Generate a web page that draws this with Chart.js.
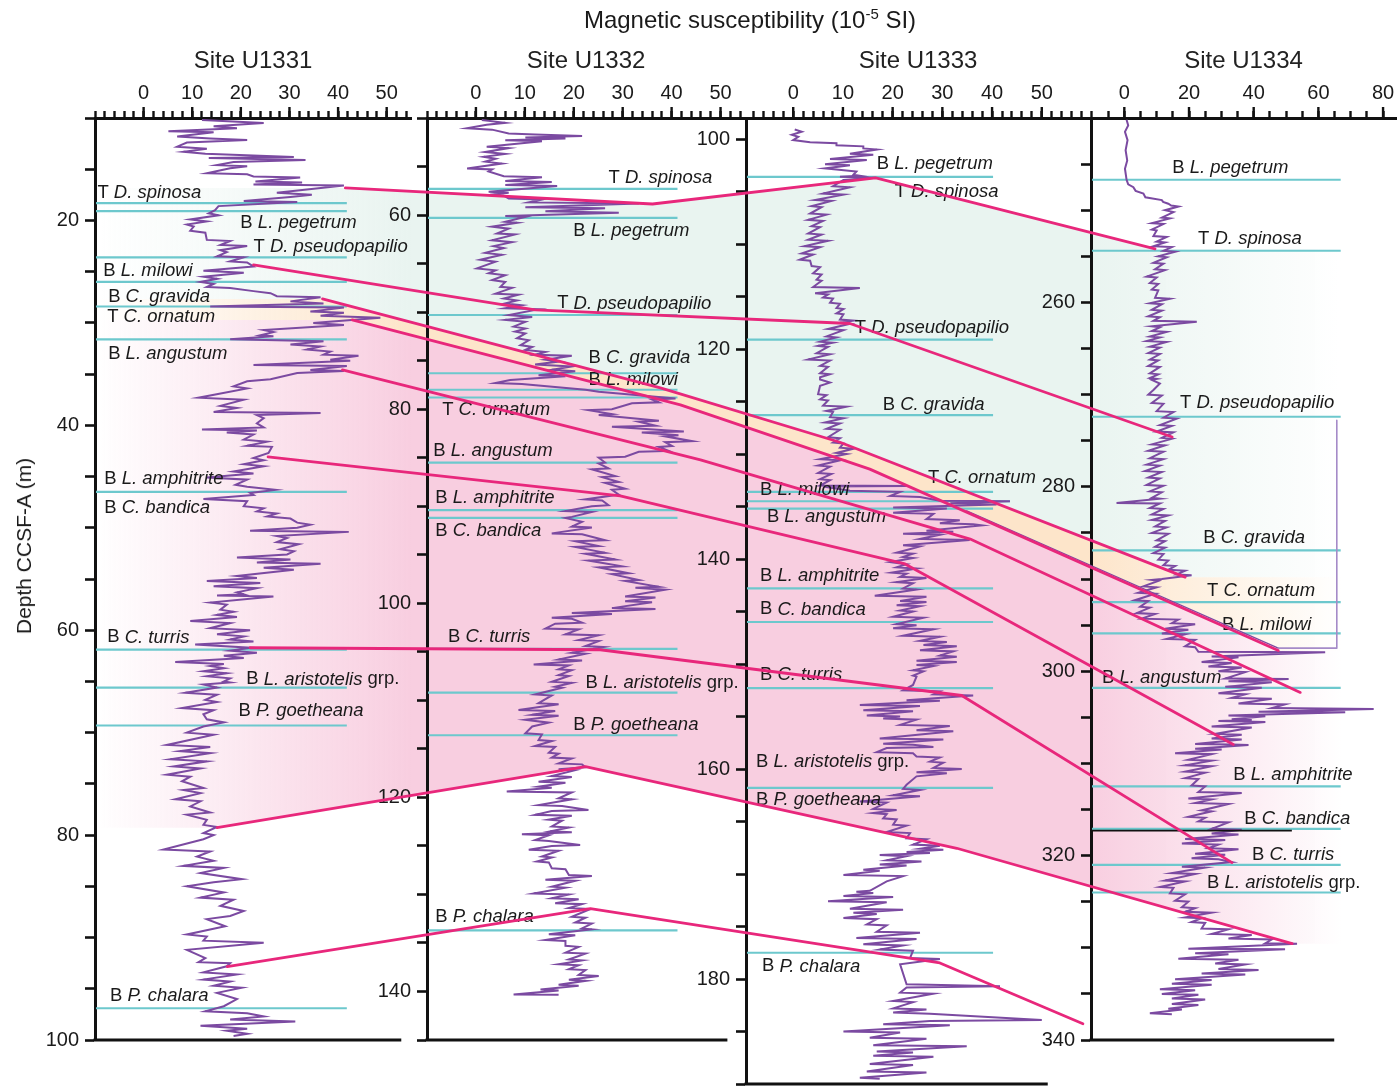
<!DOCTYPE html>
<html lang="en">
<head>
<meta charset="UTF-8">
<title>Magnetic susceptibility - Sites U1331 to U1334</title>
<script src="https://cdn.jsdelivr.net/npm/chart.js"></script>
<style>
  body { margin: 0; background: #fff; }
  #page { position: relative; width: 1398px; height: 1086px; overflow: hidden;
          font-family: 'Liberation Sans', Arial, Helvetica, sans-serif; color: #1a1a1a; }
  canvas { position: absolute; top: 0; }
  #bg { left: 0; z-index: 0; }
  .site { z-index: 1; }
  #fg { left: 0; z-index: 2; pointer-events: none; }
  #mainTitle { position: absolute; left: 450px; width: 600px; top: 5px; text-align: center;
               font-size: 24px; line-height: 30px; z-index: 3; }
  #mainTitle sup { font-size: 15px; line-height: 0; }
  #yTitle { position: absolute; left: 24px; top: 546px; transform: translate(-50%, -50%) rotate(-90deg);
            font-size: 21px; white-space: nowrap; z-index: 3; }
</style>
</head>
<body>
<div id="page">
  <canvas id="bg" width="1398" height="1086"></canvas>
  <canvas id="fg" width="1398" height="1086"></canvas>
  <div id="mainTitle">Magnetic susceptibility (10<sup>-5</sup> SI)</div>
  <div id="yTitle">Depth CCSF-A (m)</div>
</div>
<script>
// ---- data: [magnetic susceptibility, depth CCSF-A] ----
const siteNames = ['Site U1331', 'Site U1332', 'Site U1333', 'Site U1334'];

const u1331Ms = [
  [12,10.2],[24.7,10.5],[14.4,10.8],[19.2,11.0],[5.1,11.3],[14.4,11.4],[6.9,11.8],[13.7,12.0],[21.3,12.15],[8.9,12.4],
  [6.9,12.8],[13.0,13.0],[8.2,13.3],[12.7,13.5],[30.9,13.8],[13.4,13.9],[33.3,14.1],[18.5,14.3],[15.1,14.6],[21.3,14.7],
  [17.8,14.9],[13.0,15.4],[21.3,15.5],[22.6,15.7],[32.2,15.8],[23.0,16.2],[32.6,16.3],[22.6,16.5],[41.2,16.6],[27.4,17.3],
  [34.6,17.5],[30.2,17.7],[20.6,18.1],[31.6,18.2],[15.4,18.6],[14.7,19.0],[13.4,19.3],[15.4,19.5],[9.6,19.9],[13.0,20.1],
  [8.9,20.4],[10.3,20.6],[9.6,21.0],[12.7,21.2],[13.0,21.9],[17.8,22.0],[15.8,22.4],[21.3,22.5],[15.8,22.9],[17.1,23.1],
  [15.1,23.5],[20.6,23.6],[17.8,24.0],[21.3,24.1],[22.6,24.5],[12.3,24.9],[20.6,25.1],[12.3,25.5],[15.1,25.7],[11.7,26.0],
  [14.4,26.2],[13.0,26.5],[17.8,26.6],[22.6,26.9],[26.1,27.1],[27.4,27.4],[36.4,27.5],[30.2,27.9],[37.0,28.1],[13.7,28.4],
  [41.2,28.5],[34.3,28.9],[41.2,29.0],[36.4,29.3],[48.7,29.5],[34.9,30.0],[41.2,30.2],[24.7,30.7],[26.7,30.9],[24.0,31.2],
  [26.7,31.3],[17.8,31.6],[37.0,31.8],[30.2,32.1],[36.4,32.3],[33.6,32.6],[38.4,32.8],[37.0,33.1],[44.2,33.2],[38.4,33.6],
  [42.5,33.7],[22.6,34.1],[41.8,34.2],[34.3,34.6],[41.2,34.7],[31.6,34.9],
  [26.1,35.5],[21.3,35.7],[18.5,36.2],[21.3,36.4],[11.3,37.3],[20.6,37.5],[15.8,38.1],[19.2,38.3],[14.4,38.7],[36.4,38.8],
  [23.3,39.0],[24.7,39.3],[23.3,39.8],[24.7,40.2],[12.0,40.4],[23.3,40.5],[17.1,40.7],[22.6,40.9],[20.6,41.4],[25.4,41.6],
  [21.3,42.0],[26.4,42.1],[25.7,42.7],[22.6,43.2],[24.7,43.4],[20.6,43.8],[24.7,44.0],[18.5,44.5],[22.6,44.7],[13.0,45.1],
  [21.3,45.3],[18.9,45.8],[21.3,46.0],[27.1,46.3],[21.9,46.6],[22.6,46.8],[12.3,47.2],[21.3,47.4],[20.6,47.9],[24.7,48.1],
  [23.3,48.4],[27.4,48.6],[25.4,48.9],[30.2,49.1],[31.6,49.5],[34.3,49.7],[31.6,50.0],[21.9,50.3],[42.2,50.4],[27.4,50.8],
  [29.5,51.0],[27.4,51.4],[31.9,51.6],[28.1,52.1],[30.9,52.3],[29.5,52.6],[19.2,52.9],[30.2,53.1],[23.3,53.4],[36.4,53.5],
  [24.7,53.9],[30.9,54.1],[19.2,54.7],[23.3,54.9],[13.0,55.2],[24.0,55.4],[14.4,55.7],[23.3,55.9],[19.2,56.3],[20.6,56.5],
  [15.1,56.6],[26.7,56.7],[13.7,57.3],[17.1,57.5],[15.8,58.0],[18.5,58.2],[15.1,58.5],[19.2,58.7],[9.6,59.1],[17.8,59.3],
  [13.7,59.8],[21.9,60.0],[15.1,60.4],[20.6,60.6],[17.8,60.9],[22.6,61.1],[10.6,61.4],[22.0,61.7],[17.8,62.0],[23.3,62.2],
  [16.5,62.5],[20.6,62.7],[6.5,63.1],[16.5,63.3],[13.7,63.5],[16.5,63.7],[12.3,64.0],[17.1,64.2],[13.0,64.5],[17.8,64.7],
  [16.5,65.0],[17.8,65.1],[12.3,65.3],[15.1,65.6],[8.6,66.1],[15.1,66.3],[12.7,66.8],[15.1,67.0],[7.9,67.6],[14.4,67.8],
  [12.3,68.2],
  [13.0,68.7],[16.5,69.0],[12.3,69.4],[8.9,70.0],[14.4,70.2],[4.8,71.2],[13.7,71.4],[7.5,71.8],[13.7,72.0],[5.5,72.6],
  [13.0,72.8],[6.2,73.3],[11.7,73.5],[4.8,74.1],[9.6,74.3],[7.9,74.75],[12.3,75.4],[8.2,75.6],[11.7,75.9],[6.5,76.5],
  [11.7,76.7],[9.6,77.2],[13.7,77.8],[8.9,78.0],[13.0,78.5],[12.3,79.0],[15.1,79.2],[12.3,79.8],[14.4,80.0],[12.3,80.4],
  [4.1,81.4],[13.7,81.6],[11.0,82.1],[14.4,82.5],[8.2,83.0],[16.5,83.2],[11.7,83.7],[20.2,84.3],[14.4,84.6],[8.9,85.0],
  [16.5,85.6],[11.7,86.1],[18.5,86.3],[15.8,86.9],[20.6,87.4],[17.8,87.9],[13.0,88.2],[16.8,88.9],[8.9,89.7],[13.0,89.9],
  [12.3,90.3],[24.7,90.5],[8.9,91.2],[12.7,92.0],[11.3,92.4],[17.8,92.5],[17.1,92.8],[12.3,93.4],[19.2,93.6],[12.3,94.1],
  [17.8,94.3],[14.4,94.7],[20.2,94.9],[15.1,95.4],[19.2,96.0],[16.5,96.7],[12.7,97.2],[21.3,97.4],[24.7,97.7],[17.8,98.0],
  [31.2,98.2],[11.7,98.6],[21.3,98.9],[17.1,99.1],[21.3,99.4],[18.5,99.6]
];

const u1332Ms = [
  [1.2,50.2],[6.0,50.5],[2.2,50.7],[-1.8,51.06],[3.3,51.2],[6.7,51.6],[12.1,51.7],[21.7,51.85],[10.1,52.0],[18.3,52.1],
  [6.0,52.3],[13.5,52.4],[2.2,52.95],[6.7,53.1],[1.9,53.5],[6.0,53.7],[1.6,54.0],[4.0,54.2],[1.9,54.5],[5.3,54.7],
  [-1.8,55.2],[3.3,55.3],[2.6,55.5],[5.7,56.0],[13.5,56.1],[6.0,56.5],[15.5,56.6],[6.0,56.9],[16.6,57.0],[2.6,57.6],
  [6.7,57.7],[2.9,57.9],[5.7,58.0],[6.7,58.3],[13.5,58.4],[10.8,58.7],[33.3,58.8],[10.1,59.2],[26.4,59.3],[14.2,59.6],
  [29.2,59.75],[6.0,60.1],[10.1,60.2],[6.0,60.7],[8.4,60.8],[3.3,61.2],[6.7,61.4],[4.3,61.9],[8.0,62.0],[3.3,62.6],
  [7.4,62.8],[3.6,63.2],[5.7,63.4],[1.9,63.9],[5.3,64.1],[0.9,64.6],[4.0,64.8],[0.2,65.5],[4.0,65.7],[2.6,66.0],
  [6.0,66.2],[3.3,66.7],[6.0,66.9],[5.0,67.4],[7.4,67.5],[4.0,68.1],[8.7,68.2],[5.7,68.6],[8.4,68.8],[6.0,69.1],
  [9.4,69.3],[6.0,69.6],[12.8,69.7],[6.7,70.3],[11.5,70.5],[6.0,70.8],[10.1,71.0],[7.7,71.5],[10.1,71.7],[8.0,72.0],
  [10.1,72.2],[8.4,72.7],[10.8,72.9],[9.1,73.4],[11.5,73.6],[10.1,73.9],[14.2,74.1],[12.1,74.4],[19.6,74.5],[14.2,74.9],
  [16.9,75.1],[12.1,75.4],[19.6,75.6],[15.5,75.95],[20.3,76.1],[12.8,76.5],[18.3,76.6],
  [7.0,77.0],[4.0,77.3],[9.4,77.4],[22.4,78.0],[25.1,78.2],[40.8,78.9],[36.0,79.0],[37.4,79.3],[31.9,79.4],[27.8,80.0],
  [23.0,80.1],[27.8,80.5],[25.1,80.6],[37.4,81.2],[33.3,81.3],[36.7,81.7],[27.8,81.8],[42.5,82.3],[33.9,82.4],[41.4,82.7],
  [38.7,82.8],[44.2,83.3],[38.7,83.4],[40.1,83.8],[37.4,83.9],[39.4,84.3],[33.3,84.4],[30.5,84.9],[25.1,85.0],[26.4,85.5],
  [25.1,85.6],[27.1,86.1],[23.7,86.2],[28.5,86.9],[25.8,87.0],[29.2,87.5],[26.4,87.6],[30.5,88.2],[27.8,88.3],[29.2,88.8],
  [22.4,89.3],[25.8,89.4],[27.1,89.9],[23.7,90.0],[18.3,90.5],[23.7,90.6],[19.6,91.1],[18.3,91.2],[21.7,91.6],[19.6,92.1],
  [23.7,92.2],[15.5,92.8],[21.7,92.9],[26.4,93.5],[20.3,93.6],[25.1,94.1],[20.3,94.2],[26.4,94.8],[22.4,94.9],[28.5,95.5],
  [23.0,95.6],[29.9,96.2],[25.1,96.3],[31.2,96.9],[27.8,97.0],[33.3,97.6],[30.5,97.7],[37.4,98.3],[32.6,98.4],[38.7,98.6],
  [30.5,99.3],[36.7,99.4],[30.5,99.8],[36.0,99.9],[27.8,100.5],[36.7,100.6],[19.6,101.0],[27.8,101.1],[15.5,101.5],[19.6,101.6],
  [21.7,102.0],[16.2,102.1],[14.2,102.6],[21.0,102.7],[18.3,103.2],[25.1,103.3],[21.0,103.8],[25.1,103.9],[22.4,104.4],[26.1,104.5],
  [19.6,105.1],[22.4,105.2],[16.9,105.8],[21.7,105.9],[11.8,106.3],[19.0,106.4],[16.9,106.8],[19.6,106.9],[16.9,107.4],[19.0,107.5],
  [15.5,108.1],[19.6,108.2],[16.2,108.6],[17.6,108.7],[12.1,109.4],[15.5,109.5],[12.8,110.3],[16.9,110.4],[8.7,111.0],[16.2,111.1],
  [11.5,111.5],[16.9,111.6],
  [10.1,112.0],[14.9,112.3],[11.5,112.7],[10.1,113.4],[13.5,113.5],[12.8,114.1],[15.5,114.2],[12.1,114.7],[16.2,114.8],[14.9,115.4],
  [16.9,115.5],[15.5,115.9],[19.6,116.0],[16.9,116.5],[21.7,116.6],[22.4,116.9],[16.9,117.1],[20.3,117.2],[15.5,117.8],[19.6,117.9],
  [12.8,118.4],[18.3,118.5],[12.8,118.9],[15.5,119.0],[6.3,119.4],[19.6,119.5],[16.9,120.1],[19.6,120.2],[12.8,120.8],[17.6,120.9],
  [23.0,121.3],[15.5,121.4],[12.1,121.8],[19.6,121.9],[14.9,122.3],[17.6,122.4],[15.5,123.0],[19.0,123.1],[15.2,123.5],[19.6,123.6],
  [9.4,123.8],[14.9,123.9],[12.1,124.4],[14.9,124.5],[21.3,124.9],[15.5,125.0],[10.8,125.4],[16.9,125.5],[13.5,126.1],[15.5,126.2],
  [12.5,126.6],[14.9,126.7],[15.5,127.3],[18.3,127.4],[19.0,128.0],[23.7,128.1],[14.2,128.5],[20.3,128.6],[15.5,129.2],[18.3,129.3],
  [11.8,129.9],[19.0,130.0],[15.5,130.4],[21.0,130.5],[16.2,130.9],[21.7,131.0],[19.0,131.4],[23.4,131.5],[19.6,132.3],[22.4,132.4],
  [20.3,132.9],[23.7,133.0],[21.7,133.5],[23.7,133.6],[14.9,134.1],[20.3,134.2],[14.2,134.7],[18.3,134.8],[18.3,135.3],[21.0,135.4],
  [18.3,136.0],[22.4,136.1],[19.0,136.7],[21.7,136.8],[16.9,137.2],[21.0,137.3],[19.0,137.7],[22.4,137.8],[21.0,138.3],[25.1,138.4],
  [19.0,138.8],[22.4,138.9],[16.9,139.3],[21.0,139.4],[13.2,139.8],[16.9,139.9],[7.7,140.3],[16.9,140.35]
];

const u1333Ms = [
  [0.3,99.1],[1.7,99.3],[-0.3,99.6],[1.0,99.8],[0.0,100.1],[3.4,100.3],[8.7,100.4],[8.7,100.6],[14.1,100.7],[14.1,100.9],
  [16.8,101.0],[11.4,101.4],[16.1,101.5],[7.4,101.9],[14.8,102.0],[6.4,102.4],[11.4,102.5],[6.4,102.8],[8.7,102.9],[12.7,103.1],
  [12.1,103.4],[13.4,103.5],[9.4,103.6],[16.6,103.7],[10.1,103.9],[8.0,104.5],[11.4,104.6],[6.0,105.2],[10.1,105.3],[4.4,105.8],
  [7.7,105.9],[3.7,106.4],[5.7,106.5],[3.4,107.1],[6.7,107.2],[3.0,107.7],[6.0,107.8],[3.7,108.3],[5.4,108.4],[3.0,109.0],
  [5.7,109.1],[3.0,109.6],[7.0,109.7],[2.3,110.2],[5.4,110.3],[1.7,110.9],[4.0,111.0],[1.3,111.5],[3.4,111.6],[3.7,112.1],
  [5.4,112.2],[4.0,112.8],[5.7,112.9],[4.7,113.4],[5.7,113.5],[4.0,114.1],[13.4,114.2],[4.4,114.7],[7.0,114.8],[6.0,115.1],
  [8.0,115.2],[7.4,115.6],[9.4,115.7],[8.7,116.1],[10.1,116.2],[8.7,116.6],[10.1,116.7],[9.4,117.2],[12.1,117.3],[9.4,117.5],
  [11.4,117.6],[7.0,118.1],[10.1,118.2],[6.7,118.8],[8.7,118.9],[5.4,119.3],[8.0,119.4],[5.0,119.7],[7.0,119.8],[4.7,120.4],
  [7.4,120.5],[3.0,121.0],[7.4,121.1],[5.4,121.6],[7.0,121.7],[5.4,122.3],[7.4,122.4],[5.4,122.7],
  [5.4,122.9],[7.4,123.2],[5.4,123.5],[5.0,124.3],[6.7,124.4],[5.4,124.8],[7.0,124.9],[6.0,125.4],[10.7,125.5],[6.7,125.9],
  [8.0,126.0],[7.4,126.5],[10.1,126.6],[6.4,127.0],[9.4,127.1],[6.7,127.6],[9.4,127.7],[7.0,128.4],[9.4,128.5],[8.0,128.9],
  [10.1,129.0],[9.4,129.4],[12.1,129.5],[8.7,129.9],[10.7,130.0],[5.4,130.5],[9.4,130.6],[5.0,131.1],[7.4,131.2],[5.0,131.8],
  [7.7,131.9],[5.4,132.4],[7.4,132.5],[5.4,133.0],[22.8,133.05],[6.0,133.1],[11.4,133.5],[21.5,133.6],[19.5,134.0],[25.5,134.1],
  [29.5,134.45],[43.6,134.5],[31.6,134.7],[40.9,134.8],[20.1,135.1],[30.9,135.2],[20.1,135.6],[28.2,135.7],[26.8,136.2],[33.5,136.3],
  [29.5,136.6],[36.2,136.7],[37.9,136.8],[26.8,137.3],[32.2,137.4],[22.1,137.6],[29.5,137.7],[25.5,138.1],[35.5,138.2],[22.1,138.7],
  [25.5,138.8],[20.8,139.4],[24.1,139.5],[22.1,139.8],[24.1,139.9],[19.5,140.3],[22.8,140.5],[20.8,140.8],[24.8,140.9],[19.8,141.3],
  [22.8,141.4],[21.5,141.7],[26.8,141.8],[20.8,142.2],[24.1,142.3],[22.1,142.8],[24.8,142.9],[16.4,143.5],[26.8,143.6],[21.5,144.0],
  [26.8,144.1],[20.8,144.4],[25.5,144.5],[21.5,144.9],[24.1,145.0],[20.1,145.5],[26.2,145.6],[20.8,146.2],[24.8,146.3],[20.1,146.6],
  [28.2,146.7],[22.1,147.3],[29.5,147.4],[25.5,147.8],[30.9,147.9],[26.2,148.2],[32.9,148.3],[25.5,148.7],[32.2,148.8],[29.5,149.2],
  [32.9,149.3],[24.8,149.7],[32.9,149.8],[24.8,150.1],[28.2,150.2],[24.1,150.6],[26.2,150.7],[24.1,151.1],[24.8,151.2],[24.1,152.0],
  [22.1,152.5],[29.5,152.6],[28.2,152.9],[36.2,153.0],[22.8,153.45],[29.5,153.5],[13.4,153.9],[25.5,154.0],[14.1,154.4],[24.1,154.5],
  [14.8,154.9],[21.5,155.0],
  [18.1,155.2],[24.8,155.3],[21.5,155.8],[31.5,155.9],[24.8,156.3],[32.2,156.4],[17.4,157.1],[30.2,157.2],[18.1,157.6],[24.1,157.7],
  [28.2,157.9],[18.8,158.0],[16.8,158.4],[24.1,158.5],[24.8,158.8],[29.5,158.9],[27.5,159.3],[30.2,159.4],[28.2,159.9],[33.9,160.0],
  [24.8,160.3],[30.9,160.4],[24.8,160.7],[22.8,161.5],[22.1,161.9],[25.5,162.0],[20.1,162.5],[25.5,162.6],[13.4,163.1],[18.8,163.2],
  [16.1,163.8],[20.8,163.9],[16.1,164.2],[18.8,164.3],[18.1,164.7],[20.8,164.8],[20.1,165.3],[22.8,165.4],[18.8,166.0],[23.5,166.1],
  [22.8,166.6],[26.8,166.7],[24.1,167.2],[29.5,167.3],[25.5,167.6],[30.2,167.7],[22.8,167.9],[27.5,168.0],[17.4,168.2],[22.8,168.3],
  [18.8,168.7],[25.8,168.8],[17.4,169.1],[22.8,169.2],[14.1,169.6],[17.4,169.7],[10.1,170.1],[22.1,170.2],[18.8,170.7],[15.4,171.6],
  [12.7,171.7],[16.1,171.8],[10.1,172.1],[20.1,172.2],[7.0,172.6],[18.8,172.7],[11.4,173.3],[22.1,173.4],[12.1,173.7],[16.8,173.8],
  [10.1,174.2],[16.8,174.3],[14.8,174.8],[18.8,174.9],[16.8,175.5],[25.5,175.6],[12.7,176.1],[24.8,176.2],[14.1,176.7],[22.1,176.8],
  [17.4,177.2],[24.1,177.3],[23.5,178.0],[29.5,178.1],[21.5,178.6],[22.8,180.5],[41.6,180.7],[22.8,180.8],[21.5,181.3],[28.2,181.4],
  [20.1,182.1],[24.1,182.2],[20.1,182.8],[26.8,182.9],[20.1,183.2],[27.5,183.3],[50.0,183.9],[27.5,184.0],[18.1,184.3],[31.5,184.4],
  [10.1,185.0],[21.5,185.1],[15.4,185.6],[26.8,185.7],[16.1,186.3],[34.9,186.4],[16.8,186.9],[24.1,187.0],[16.1,187.3],[28.2,187.4],
  [15.4,188.1],[24.1,188.2],[14.8,188.8],[26.8,188.9],[13.4,189.4],[17.4,189.5]
];

const u1334Ms = [
  [0.7,240.2],[1.2,240.8],[0.2,241.5],[1.0,242.4],[0.4,243.5],[0.9,244.6],[0.2,245.5],[0.7,246.7],[1.2,247.2],[2.8,247.5],
  [3.5,247.9],[5.9,248.2],[6.5,248.6],[11.6,248.9],[12.0,249.1],[13.6,249.3],[14.5,249.5],[16.7,249.6],[12.6,250.0],[15.2,250.2],
  [11.6,250.8],[14.1,250.9],[8.5,251.4],[12.1,251.5],[8.5,252.1],[10.0,252.2],[9.0,252.8],[13.1,252.9],[10.0,253.4],[12.6,253.5],
  [9.0,253.9],[14.7,254.0],[12.1,254.4],[15.7,254.5],[10.5,255.0],[13.1,255.1],[9.0,255.7],[12.1,255.8],[9.5,256.4],[12.6,256.5],
  [6.9,257.2],[10.0,257.3],[7.9,257.9],[10.5,258.0],[8.5,258.6],[10.5,258.7],[9.5,259.5],[14.1,259.6],[7.9,260.1],[11.6,260.2],
  [8.5,260.8],[11.6,260.9],[7.4,261.5],[11.0,261.6],[9.0,262.0],[22.4,262.1],[8.5,262.6],[11.0,262.7],[8.5,263.1],[13.1,263.2],
  [7.9,263.7],[11.0,263.8],[6.9,264.2],[13.1,264.3],[7.9,264.8],[11.0,264.9],[7.4,265.5],[11.0,265.6],[7.9,266.2],[10.5,266.3],
  [7.4,266.9],[11.0,267.0],[7.9,267.7],[10.5,267.8],[7.9,268.2],[10.0,268.3],
  [8.5,268.4],[11.0,268.8],[9.0,269.5],[7.4,270.0],[11.6,270.1],[8.5,270.9],[12.1,271.0],[10.0,271.8],[15.2,271.9],[12.1,272.5],
  [16.2,272.6],[11.0,273.3],[14.7,273.4],[10.0,274.0],[15.2,274.1],[11.6,274.7],[14.7,274.8],[8.5,275.4],[12.6,275.5],[7.4,276.1],
  [12.1,276.2],[7.9,276.9],[12.1,277.0],[6.9,277.6],[11.0,277.7],[6.4,278.3],[11.6,278.4],[7.4,279.0],[11.0,279.1],[6.9,279.8],
  [12.1,279.9],[7.9,280.5],[11.6,280.6],[8.5,281.2],[11.0,281.3],[-2.4,281.75],[11.0,281.8],[7.9,282.3],[12.1,282.4],[8.5,283.0],
  [13.6,283.1],[8.5,283.6],[12.6,283.7],[9.5,284.3],[13.1,284.4],[8.5,285.0],[13.6,285.1],[10.0,285.8],[12.6,285.9],[9.5,286.5],
  [12.6,286.6],[9.0,287.2],[12.1,287.3],[10.5,287.9],[13.6,288.0],[12.1,288.5],[15.7,288.6],[13.6,289.0],[18.8,289.1],[16.2,289.5],
  [20.8,289.6],[11.6,290.0],[8.5,290.1],[10.5,290.2],[5.9,290.8],[10.0,290.9],[4.3,291.5],[9.5,291.6],[3.3,292.3],[7.4,292.4],
  [4.9,293.0],[7.9,293.1],[3.8,293.7],[9.5,293.8],[5.4,294.3],[16.7,294.4],[14.7,294.8],[21.9,294.9],[12.6,295.4],[19.8,295.5],
  [11.6,295.9],[18.8,296.0],[13.1,296.5],[21.9,296.6],[18.8,297.3],[21.9,297.4],[22.9,297.9],[62.1,297.95],[27.0,298.4],[35.3,298.5],
  [23.9,299.0],[33.2,299.1],[26.0,299.5],[36.3,299.6],[29.1,300.0],[37.4,300.1],[31.2,300.8],[50.8,300.85],[32.2,301.1],[45.6,301.2],
  [31.2,301.7],[42.5,301.8],[29.1,302.4],[37.4,302.5],[33.2,302.9],[45.6,303.0],[35.3,303.5],[49.7,303.6],[45.6,304.0],[77.1,304.1],
  [41.5,304.4],[68.3,304.45],[32.2,304.8],[43.6,304.9],[33.2,305.2],[39.4,305.3],
  [29.1,305.4],[43.6,305.5],[27.0,306.0],[39.4,306.1],[28.1,306.8],[36.3,306.9],[27.0,307.3],[36.3,307.4],[21.9,307.9],[33.2,307.95],
  [38.4,308.0],[21.9,308.4],[30.1,308.5],[15.7,308.9],[27.0,309.0],[19.8,309.6],[27.0,309.7],[18.8,310.2],[27.0,310.3],[18.8,310.9],
  [25.0,311.0],[18.8,311.6],[22.9,311.7],[20.8,312.4],[25.0,312.5],[22.9,313.1],[36.3,313.2],[19.8,313.8],[27.0,313.9],[21.9,314.3],
  [32.2,314.4],[23.9,315.1],[27.0,315.2],[19.8,315.8],[25.0,315.9],[22.9,316.3],[32.2,316.4],[27.0,317.1],[36.3,317.2],[27.0,317.6],
  [35.3,317.7],[18.8,318.2],[31.2,318.3],[17.8,318.7],[29.1,318.8],[26.0,319.2],[35.3,319.3],[21.9,319.8],[31.2,319.9],[20.8,320.3],
  [29.1,320.4],[33.2,320.7],[17.8,321.2],[25.0,321.3],[14.7,321.9],[21.9,322.0],[12.6,322.7],[18.8,322.8],[11.0,323.4],[15.2,323.5],
  [14.1,324.1],[18.8,324.2],[15.7,324.9],[19.8,325.0],[17.8,325.6],[21.9,325.7],[18.8,326.1],[27.0,326.2],[18.8,326.7],[23.9,326.8],
  [20.8,327.2],[25.0,327.3],[23.9,327.9],[32.2,328.0],[27.0,328.5],[39.4,328.6],[32.2,329.0],[45.6,329.1],[43.6,329.5],[53.4,329.55],
  [19.8,330.1],[49.7,330.15],[21.9,330.6],[32.2,330.7],[16.7,331.2],[35.3,331.3],[28.1,331.7],[37.4,331.8],[29.1,332.3],[41.5,332.4],
  [23.9,332.8],[37.4,332.9],[15.7,333.4],[27.0,333.5],[14.7,333.9],[27.0,334.0],[11.0,334.5],[21.9,334.6],[11.6,335.0],[22.9,335.1],
  [14.7,335.5],[25.0,335.6],[14.7,336.1],[22.9,336.2],[13.6,336.6],[17.8,336.7],[7.9,337.1],[14.7,337.2]
];

// biostratigraphic events: label text, depth of the label, MS value where label text starts, depth of event line
const u1331Labels = ['T D. spinosa','B L. pegetrum','T D. pseudopapilio','B L. milowi','B C. gravida','T C. ornatum','B L. angustum','B L. amphitrite','B C. bandica','B C. turris','B L. aristotelis grp.','B P. goetheana','B P. chalara'];
const u1331LabelDepth = [17.3,20.2,22.6,24.9,27.5,29.4,33.0,45.2,48.1,60.7,64.8,67.9,95.7];
const u1331LabelAt = [-9.5,19.9,22.6,-8.3,-7.3,-7.5,-7.3,-8.1,-8.1,-7.5,21.1,19.5,-6.9];
const u1331LineDepth = [18.3,19.1,23.6,26.0,28.4,31.6,46.5,61.9,65.6,69.3,96.9];

const u1332Labels = ['T D. spinosa','B L. pegetrum','T D. pseudopapilio','B C. gravida','B L. milowi','T C. ornatum','B L. angustum','B L. amphitrite','B C. bandica','B C. turris','B L. aristotelis grp.','B P. goetheana','B P. chalara'];
const u1332LabelDepth = [56.2,61.6,69.1,74.7,77.0,80.1,84.3,89.1,92.5,103.5,108.2,112.5,132.3];
const u1332LabelAt = [27.1,19.9,16.6,23.0,23.0,-6.9,-8.7,-8.3,-8.3,-5.7,22.4,19.9,-8.3];
const u1332LineDepth = [57.3,60.3,70.3,76.3,78.0,78.8,85.5,90.4,91.2,104.7,109.2,113.6,133.7];

const u1333Labels = ['B L. pegetrum','T D. spinosa','T D. pseudopapilio','B C. gravida','T C. ornatum','B L. milowi','B L. angustum','B L. amphitrite','B C. bandica','B C. turris','B L. aristotelis grp.','B P. goetheana','B P. chalara'];
const u1333LabelDepth = [102.4,105.0,118.0,125.3,132.3,133.4,136.0,141.6,144.8,151.0,159.3,162.9,178.8];
const u1333LabelAt = [16.8,20.4,12.4,18.0,27.1,-6.7,-5.3,-6.7,-6.7,-6.7,-7.5,-7.5,-6.3];
const u1333LineDepth = [103.6,119.1,126.3,133.6,134.5,135.2,142.8,146.0,152.3,161.8,177.5];

const u1334Labels = ['B L. pegetrum','T D. spinosa','T D. pseudopapilio','B C. gravida','T C. ornatum','B L. milowi','B L. angustum','B L. amphitrite','B C. bandica','B C. turris','B L. aristotelis grp.'];
const u1334LabelDepth = [245.4,253.1,270.9,285.5,291.3,295.0,300.7,311.2,316.0,319.9,323.0];
const u1334LabelAt = [14.8,22.8,17.2,24.4,25.6,30.2,-6.9,33.7,37.1,39.5,25.6];
const u1334LineDepth = [246.7,254.4,272.4,286.9,292.5,295.9,301.8,312.5,317.1,321.0,324.0];
const u1334BreakDepth = 317.3;

// correlation tie lines: [MS, depth] at U1331, U1332, U1333, U1334
const corrLines = [
  [[41.5,16.83],[36.1,58.86],[16.6,103.7],[9.5,254.2]],
  [[22.6,24.34],[12.1,69.77],[11.4,117.57],[14.8,274.6]],
  [[36.8,27.66],[37.7,77.81],[9.4,128.88],[18.8,289.8]],
  [[42.9,29.71],[41.8,79.56],[15.4,131.44],[47.6,297.75]],
  [[40.9,34.59],[45.9,85.22],[35.6,138.1],[54.4,302.3]],
  [[25.6,43.07],[29.5,88.93],[22.5,140.47],[33.7,307.95]],
  [[21.9,61.71],[25.4,104.79],[33.9,153.0],[33.3,320.76]],
  [[15.1,79.27],[22.4,116.84],[32.9,167.55],[51.9,329.55]],
  [[17.2,92.83],[23.4,131.46],[29.5,178.47],[-12.8,338.24]]
];
const hiatusLink = [[34.9,135.4],[47.6,297.5]];   // thin line U1333 -> U1334
const u1334Bracket = [[47.6,297.5],[65.7,297.5],[65.7,272.8]];

// axis ranges
const xMin = [-10, -10, -9.5, -10.3], xMax = [55, 55, 59.7, 84];
const yMin = [10, 50, 98, 240], yMax = [100, 145, 190, 340];
const minorStep = [2, 2, 2, 5], majorStep = [10, 10, 10, 20];

// ---- layout & style ----
const FONT = "'Liberation Sans', Arial, Helvetica, sans-serif";
const PURPLE = '#7b4aa1', CYAN = '#6dc8cd', PINK = '#e8277b', INK = '#111';
const LABEL_PX = 18.5;
const layout = [
  { left: 0,    width: 412, yAxisW: 95, padR: 1, padB: 46, lineEnd: 41.8, bottomEnd: 53 },
  { left: 360,  width: 386, yAxisW: 67, padR: 1, padB: 46, lineEnd: 41.2, bottomEnd: 51.4 },
  { left: 680,  width: 412, yAxisW: 66, padR: 2, padB: 2,  lineEnd: 40.2, bottomEnd: 51.2 },
  { left: 1030, width: 368, yAxisW: 61, padR: 2, padB: 46, lineEnd: 66.9, bottomEnd: 64.9 }
];
const lineEndOverride = { 2: { 4: 43.6 } };
const fadeEnd = 67.5;

const sites = [
  { ms: u1331Ms, labels: u1331Labels, labelDepth: u1331LabelDepth, labelAt: u1331LabelAt, lineDepth: u1331LineDepth },
  { ms: u1332Ms, labels: u1332Labels, labelDepth: u1332LabelDepth, labelAt: u1332LabelAt, lineDepth: u1332LineDepth },
  { ms: u1333Ms, labels: u1333Labels, labelDepth: u1333LabelDepth, labelAt: u1333LabelAt, lineDepth: u1333LineDepth },
  { ms: u1334Ms, labels: u1334Labels, labelDepth: u1334LabelDepth, labelAt: u1334LabelAt, lineDepth: u1334LineDepth }
];

Chart.defaults.font.family = FONT;
Chart.defaults.color = '#1a1a1a';

function drawEventLabel(ctx, text, x, y) {
  let prefix = text.slice(0, 2), rest = text.slice(2), suffix = '';
  if (rest.endsWith(' grp.')) { suffix = ' grp.'; rest = rest.slice(0, -5); }
  ctx.font = LABEL_PX + 'px ' + FONT;
  ctx.fillText(prefix, x, y); x += ctx.measureText(prefix).width;
  ctx.font = 'italic ' + LABEL_PX + 'px ' + FONT;
  ctx.fillText(rest, x, y); x += ctx.measureText(rest).width;
  if (suffix) { ctx.font = LABEL_PX + 'px ' + FONT; ctx.fillText(suffix, x, y); }
}

function decor(i) {
  const s = sites[i], L = layout[i];
  return {
    id: 'decor' + i,
    beforeDatasetsDraw(chart) {
      const { ctx, chartArea: a, scales: { x, y } } = chart;
      ctx.save();
      ctx.strokeStyle = CYAN; ctx.lineWidth = 2.2;
      s.lineDepth.forEach((d, k) => {
        const end = (lineEndOverride[i] && lineEndOverride[i][k]) || L.lineEnd;
        const py = y.getPixelForValue(d);
        ctx.beginPath(); ctx.moveTo(a.left + 1, py); ctx.lineTo(x.getPixelForValue(end), py); ctx.stroke();
      });
      ctx.restore();
    },
    afterDatasetsDraw(chart) {
      const { ctx, chartArea: a, scales: { x, y } } = chart;
      ctx.save();
      if (i === 3) {
        const py = y.getPixelForValue(u1334BreakDepth);
        ctx.strokeStyle = INK; ctx.lineWidth = 1.8;
        ctx.beginPath(); ctx.moveTo(a.left, py); ctx.lineTo(x.getPixelForValue(51.8), py); ctx.stroke();
      }
      ctx.fillStyle = '#1a1a1a'; ctx.textBaseline = 'middle'; ctx.textAlign = 'left';
      s.labels.forEach((t, k) => drawEventLabel(ctx, t, x.getPixelForValue(s.labelAt[k]), y.getPixelForValue(s.labelDepth[k])));
      ctx.restore();
    },
    afterDraw(chart) {
      const { ctx, chartArea: a, scales: { x } } = chart;
      ctx.save();
      ctx.strokeStyle = INK; ctx.lineWidth = 2.4;
      for (let v = 0; v <= xMax[i]; v += majorStep[i]) {
        const px = x.getPixelForValue(v);
        ctx.beginPath(); ctx.moveTo(px, a.top - 11); ctx.lineTo(px, a.top); ctx.stroke();
      }
      ctx.lineWidth = 3;
      ctx.beginPath(); ctx.moveTo(a.left - 1.5, a.bottom); ctx.lineTo(x.getPixelForValue(L.bottomEnd), a.bottom); ctx.stroke();
      ctx.restore();
    }
  };
}

const page = document.getElementById('page');
const charts = sites.map((s, i) => {
  const L = layout[i];
  const cv = document.createElement('canvas');
  cv.width = L.width; cv.height = 1086;
  cv.className = 'site';
  cv.style.left = L.left + 'px';
  page.appendChild(cv);
  return new Chart(cv, {
    type: 'scatter',
    data: {
      datasets: [{
        data: s.ms.map(p => ({ x: p[0], y: p[1] })),
        showLine: true, borderColor: PURPLE, borderWidth: 2,
        pointRadius: 0, tension: 0
      }]
    },
    options: {
      responsive: false, animation: false, devicePixelRatio: 1, events: [],
      layout: { padding: { left: 0, top: 0, right: L.padR, bottom: L.padB } },
      plugins: { legend: { display: false }, tooltip: { enabled: false } },
      scales: {
        x: {
          type: 'linear', position: 'top', min: xMin[i], max: xMax[i],
          afterFit: sc => { sc.height = 118; sc.paddingLeft = 0; sc.paddingRight = 0; },
          ticks: {
            stepSize: minorStep[i], includeBounds: false, autoSkip: false, maxRotation: 0,
            padding: 6, font: { size: 20 }, color: '#1a1a1a',
            callback: v => (v >= 0 && v % majorStep[i] === 0) ? String(v) : ''
          },
          grid: { drawOnChartArea: false, tickLength: 7, tickWidth: 2.4, tickColor: INK },
          border: { display: true, width: 3, color: INK },
          title: { display: true, text: siteNames[i], font: { size: 24 }, color: '#222', padding: { top: 47, bottom: 0 } }
        },
        y: {
          type: 'linear', reverse: true, min: yMin[i], max: yMax[i],
          afterFit: sc => { sc.width = L.yAxisW; sc.paddingTop = 0; sc.paddingBottom = 0; },
          ticks: {
            stepSize: 5, includeBounds: false, autoSkip: false, padding: 6,
            font: { size: 20 }, color: '#1a1a1a',
            callback: function (v) { return (v % 20 === 0 && v > this.min) ? String(v) : ''; }
          },
          grid: { drawOnChartArea: false, tickLength: 10, tickWidth: 2.6, tickColor: INK },
          border: { display: true, width: 3, color: INK }
        }
      }
    },
    plugins: [decor(i)]
  });
});

// ---- shaded bands and tie lines, placed through each site's scales ----
function pagePt(i, p) {
  const c = charts[i];
  return [layout[i].left + c.scales.x.getPixelForValue(p[0]), c.scales.y.getPixelForValue(p[1])];
}
const bg = document.getElementById('bg').getContext('2d');
const xL = layout[0].left + charts[0].chartArea.left;
const xFull1 = layout[0].left + charts[0].chartArea.right;
const xFull2 = layout[3].left + charts[3].chartArea.left;
const xR = pagePt(3, [fadeEnd, 300])[0];

function band(topLine, botLine, rgb) {
  const t = topLine.map((p, i) => pagePt(i, p));
  const b = botLine.map((p, i) => pagePt(i, p));
  const pts = [[xL, t[0][1]], ...t, [xR, t[3][1]], [xR, b[3][1]], ...b.slice().reverse(), [xL, b[0][1]]];
  const span = xR - xL;
  const g = bg.createLinearGradient(xL, 0, xR, 0);
  g.addColorStop(0, `rgba(${rgb},0)`);
  g.addColorStop((xFull1 - xL) / span, `rgba(${rgb},1)`);
  g.addColorStop((xFull2 - xL) / span, `rgba(${rgb},1)`);
  g.addColorStop(1, `rgba(${rgb},0)`);
  bg.fillStyle = g;
  bg.beginPath();
  pts.forEach((p, k) => k ? bg.lineTo(p[0], p[1]) : bg.moveTo(p[0], p[1]));
  bg.closePath(); bg.fill();
}
band(corrLines[0], corrLines[2], '233,244,240');
band(corrLines[2], corrLines[3], '253,229,202');
band(corrLines[3], corrLines[7], '248,206,224');

const fg = document.getElementById('fg').getContext('2d');
fg.lineJoin = 'round'; fg.lineCap = 'round';
fg.strokeStyle = PURPLE; fg.lineWidth = 1.2;
fg.beginPath();
[pagePt(2, hiatusLink[0]), pagePt(3, hiatusLink[1])].forEach((p, k) => k ? fg.lineTo(p[0], p[1]) : fg.moveTo(p[0], p[1]));
fg.stroke();
fg.strokeStyle = '#a58bc8'; fg.lineWidth = 1.6;
fg.beginPath();
u1334Bracket.map(p => pagePt(3, p)).forEach((p, k) => k ? fg.lineTo(p[0], p[1]) : fg.moveTo(p[0], p[1]));
fg.stroke();
fg.strokeStyle = PINK; fg.lineWidth = 2.8;
corrLines.forEach(line => {
  fg.beginPath();
  line.map((p, i) => pagePt(i, p)).forEach((p, k) => k ? fg.lineTo(p[0], p[1]) : fg.moveTo(p[0], p[1]));
  fg.stroke();
});
</script>
</body>
</html>
